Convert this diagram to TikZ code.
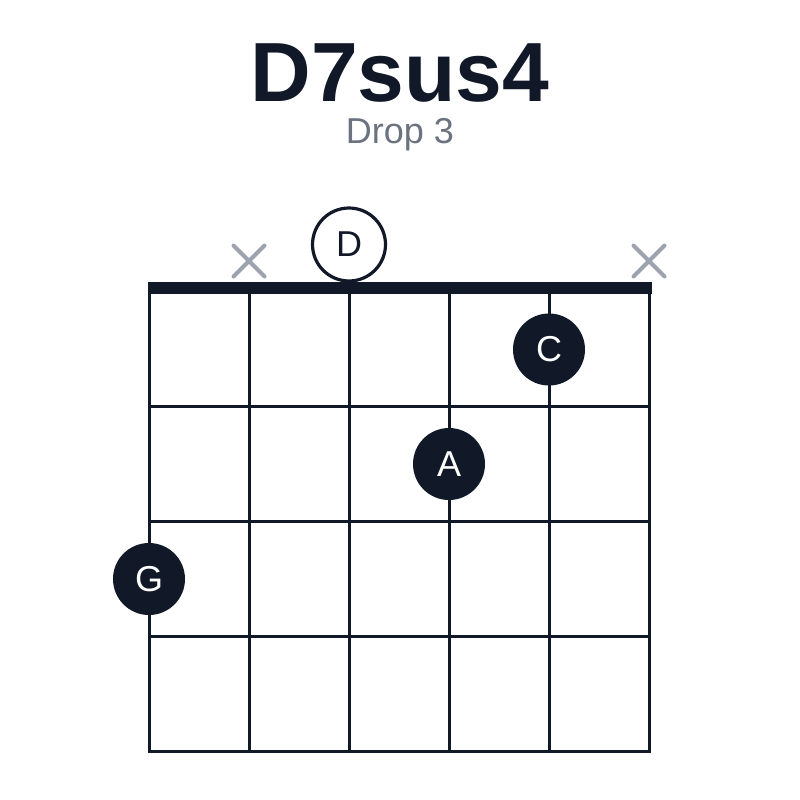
\documentclass[tikz,border=0pt]{standalone}
\usepackage{fontspec}
\setmainfont{Liberation Sans}
\definecolor{ink}{HTML}{111827}
\definecolor{mute}{HTML}{9CA3AF}
\definecolor{subgray}{HTML}{6B7280}
\begin{document}
\begin{tikzpicture}[x=1pt, y=-1pt, line join=round,
    fing/.style={circle, fill=ink, text=white, minimum size=72pt, inner sep=0pt, font=\fontsize{36}{36}\selectfont},
    opennote/.style={circle, draw=ink, fill=white, line width=3.2pt, minimum size=73pt, inner sep=0pt, text=ink, font=\fontsize{36}{36}\selectfont}]
    \useasboundingbox (0,0) rectangle (800,800);
    % title
    \node[anchor=base, inner sep=0pt, text depth=0pt, text=ink, font=\fontsize{84}{84}\selectfont\bfseries] (title) at (400,101) {D7sus4};
    \node[anchor=base, inner sep=0pt, text=subgray, font=\fontsize{36}{36}\selectfont] (subtitle) at (400,143) {Drop 3};
    % grid
    \foreach \s in {0,...,5} \draw[ink, line width=3pt, line cap=rect] (149+100*\s,291.5) -- (149+100*\s,751.5);
    \foreach \f in {1,...,4} \draw[ink, line width=3pt, line cap=rect] (149,291.5+115*\f) -- (649,291.5+115*\f);
    \fill[ink] (147.5,282.3) rectangle (651.5,294);
    % muted strings
    \foreach \x in {249,649} \draw[mute, line width=4pt, line cap=round] (\x-15.5,245.5) -- (\x+15.5,276.5) (\x-15.5,276.5) -- (\x+15.5,245.5);
    % notes
    \node[opennote] (rootD) at (349,244.5) {D};
    \node[fing] (noteC) at (549,349.5) {C};
    \node[fing] (noteA) at (449,464) {A};
    \node[fing] (noteG) at (149,579) {G};
\end{tikzpicture}
\end{document}
